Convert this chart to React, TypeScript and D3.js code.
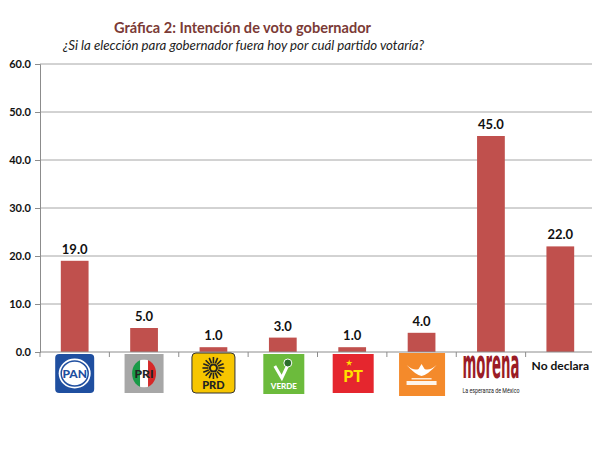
import React, { useEffect, useRef } from "react";
import * as d3 from "d3";

const categories = ["PAN", "PRI", "PRD", "VERDE", "PT", "MC", "MORENA", "No declara"];
const values = [19.0, 5.0, 1.0, 3.0, 1.0, 4.0, 45.0, 22.0];
const yTicks = [0, 10, 20, 30, 40, 50, 60];
const title = "Gráfica 2: Intención de voto gobernador";
const subtitle = "¿Si la elección para gobernador fuera hoy por cuál partido votaría?";

const W = 600, H = 450;
const M = { left: 40, right: 5, top: 64, bottom: 98 };

function drawLogo(g: d3.Selection<SVGGElement, unknown, null, undefined>, key: string, cx: number, top: number) {
  const s = 39;
  const x0 = cx - s / 2;
  const font = "Lato, 'DejaVu Sans', sans-serif";
  if (key === "PAN") {
    g.append("rect").attr("x", x0).attr("y", top).attr("width", s).attr("height", s).attr("rx", 4).attr("fill", "#1f4fa0");
    g.append("ellipse").attr("cx", cx).attr("cy", top + s / 2).attr("rx", 16).attr("ry", 15).attr("fill", "white");
    g.append("ellipse").attr("cx", cx).attr("cy", top + s / 2).attr("rx", 13.5).attr("ry", 12.5).attr("fill", "none").attr("stroke", "#1f4fa0").attr("stroke-width", 1.5);
    g.append("text").attr("x", cx).attr("y", top + s / 2 + 4.5).attr("text-anchor", "middle").attr("font-family", font).attr("font-weight", 900).attr("font-size", 12).attr("fill", "#1f4fa0").text("PAN");
  } else if (key === "PRI") {
    g.append("rect").attr("x", x0).attr("y", top).attr("width", s).attr("height", s).attr("fill", "#a7a7a7");
    const r = 14;
    const cy = top + s / 2;
    const clipId = "priclip";
    g.append("clipPath").attr("id", clipId).append("ellipse").attr("cx", cx).attr("cy", cy).attr("rx", 12).attr("ry", r);
    const cg = g.append("g").attr("clip-path", `url(#${clipId})`);
    cg.append("rect").attr("x", cx - 12).attr("y", cy - r).attr("width", 8).attr("height", 2 * r).attr("fill", "#1a9a48");
    cg.append("rect").attr("x", cx - 4).attr("y", cy - r).attr("width", 8).attr("height", 2 * r).attr("fill", "#ffffff");
    cg.append("rect").attr("x", cx + 4).attr("y", cy - r).attr("width", 8).attr("height", 2 * r).attr("fill", "#d62828");
    g.append("text").attr("x", cx).attr("y", cy + 4).attr("text-anchor", "middle").attr("font-family", font).attr("font-weight", 900).attr("font-size", 12).attr("fill", "#222").text("PRI");
  } else if (key === "PRD") {
    g.append("rect").attr("x", x0 - 2).attr("y", top - 1).attr("width", s + 4).attr("height", s + 1).attr("rx", 4).attr("fill", "#f7c600").attr("stroke", "#333").attr("stroke-width", 1);
    const cy = top + 14;
    for (let i = 0; i < 16; i++) {
      const a = (i / 16) * Math.PI * 2;
      g.append("line").attr("x1", cx + Math.cos(a) * 5).attr("y1", cy + Math.sin(a) * 5)
        .attr("x2", cx + Math.cos(a) * 11).attr("y2", cy + Math.sin(a) * 11)
        .attr("stroke", "#222").attr("stroke-width", 1.6);
    }
    g.append("circle").attr("cx", cx).attr("cy", cy).attr("r", 4.5).attr("fill", "#222");
    g.append("circle").attr("cx", cx).attr("cy", cy).attr("r", 2.5).attr("fill", "#f7c600");
    g.append("text").attr("x", cx).attr("y", top + 35).attr("text-anchor", "middle").attr("font-family", font).attr("font-weight", 900).attr("font-size", 11).attr("fill", "#222").text("PRD");
  } else if (key === "VERDE") {
    g.append("rect").attr("x", x0).attr("y", top).attr("width", s + 2).attr("height", s + 1).attr("fill", "#6cbb3c");
    g.append("path").attr("d", `M${cx - 8},${top + 12} L${cx - 1},${top + 24} L${cx + 6},${top + 9}`).attr("fill", "none").attr("stroke", "white").attr("stroke-width", 3);
    g.append("circle").attr("cx", cx + 5).attr("cy", top + 9).attr("r", 4).attr("fill", "#2b6e2b").attr("stroke", "white").attr("stroke-width", 1);
    g.append("text").attr("x", cx + 1).attr("y", top + 35).attr("text-anchor", "middle").attr("font-family", font).attr("font-weight", 900).attr("font-size", 8).attr("fill", "white").text("VERDE");
  } else if (key === "PT") {
    g.append("rect").attr("x", x0).attr("y", top).attr("width", s + 2).attr("height", s).attr("fill", "#e5262e");
    g.append("text").attr("x", cx + 1).attr("y", top + 28).attr("text-anchor", "middle").attr("font-family", font).attr("font-weight", 900).attr("font-size", 16).attr("fill", "#ffe000").text("PT");
    const star = d3.symbol().type(d3.symbolStar).size(14);
    g.append("path").attr("d", star()!).attr("transform", `translate(${cx - 3},${top + 9})`).attr("fill", "#ffe000");
  } else if (key === "MC") {
    g.append("rect").attr("x", x0 - 3).attr("y", top - 1).attr("width", s + 7).attr("height", s + 4).attr("fill", "#f48a2b");
    const cy = top + 17;
    g.append("path").attr("d", `M${cx - 15},${cy - 6} Q${cx - 6},${cy + 4} ${cx},${cy + 5} Q${cx + 6},${cy + 4} ${cx + 15},${cy - 6} Q${cx + 8},${cy} ${cx + 3},${cy - 2} L${cx},${cy - 7} L${cx - 3},${cy - 2} Q${cx - 8},${cy} ${cx - 15},${cy - 6} Z`).attr("fill", "white");
    g.append("rect").attr("x", cx - 15).attr("y", top + 27).attr("width", 30).attr("height", 4).attr("fill", "white").attr("opacity", 0.9);
    g.append("rect").attr("x", cx - 10).attr("y", top + 24).attr("width", 20).attr("height", 1.5).attr("fill", "white").attr("opacity", 0.8);
  } else if (key === "MORENA") {
    g.append("text").attr("x", 0).attr("y", 0).attr("text-anchor", "middle")
      .attr("transform", `translate(${cx},${top + 24}) scale(0.75,2)`)
      .attr("font-family", "'Liberation Sans Narrow', 'DejaVu Sans Condensed', Roboto, sans-serif")
      .attr("font-weight", 700).attr("font-size", 20).attr("fill", "#9b1c26")
      .attr("textLength", 76).attr("lengthAdjust", "spacingAndGlyphs").text("morena");
    g.append("text").attr("x", cx).attr("y", top + 39).attr("text-anchor", "middle")
      .attr("font-family", "'Liberation Sans Narrow', Roboto, sans-serif")
      .attr("font-size", 7.5).attr("fill", "#222")
      .attr("textLength", 57).attr("lengthAdjust", "spacingAndGlyphs").text("La esperanza de México");
  } else {
    g.append("text").attr("x", cx).attr("y", top + 16).attr("text-anchor", "middle").attr("font-family", font).attr("font-weight", 700).attr("font-size", 12).attr("fill", "#111").text(key);
  }
}

export default function App() {
  const ref = useRef<SVGSVGElement>(null);
  useEffect(() => {
    const svg = d3.select(ref.current);
    svg.selectAll("*").remove();
    const font = "Lato, 'DejaVu Sans', sans-serif";
    const x = d3.scaleBand().domain(categories).range([M.left, W - M.right]).paddingInner(0.6).paddingOuter(0.3);
    const xb = d3.scaleBand().domain(categories).range([M.left, W - M.right]);
    const y = d3.scaleLinear().domain([0, 60]).range([H - M.bottom, M.top]);

    svg.append("rect").attr("width", W).attr("height", H).attr("fill", "white");

    svg.append("text").attr("x", 242.5).attr("y", 33).attr("text-anchor", "middle").attr("font-family", font)
      .attr("font-weight", 700).attr("font-size", 15.5).attr("fill", "#7b3a36")
      .attr("textLength", 257).attr("lengthAdjust", "spacingAndGlyphs").text(title);
    svg.append("text").attr("x", 243.5).attr("y", 50).attr("text-anchor", "middle").attr("font-family", font)
      .attr("font-style", "italic").attr("font-size", 13).attr("fill", "#222")
      .attr("textLength", 361).attr("lengthAdjust", "spacingAndGlyphs").text(subtitle);

    // gridlines
    svg.append("g").selectAll("line").data(yTicks.filter((t) => t > 0)).join("line")
      .attr("x1", M.left).attr("x2", W - M.right).attr("y1", (d) => y(d)).attr("y2", (d) => y(d))
      .attr("stroke", "#a6a6a6").attr("stroke-width", 1);
    // right border
    svg.append("line").attr("x1", W - M.right).attr("x2", W - M.right).attr("y1", y(60)).attr("y2", y(0)).attr("stroke", "#a6a6a6");

    // y axis
    const yAxis = svg.append("g").attr("transform", `translate(${M.left},0)`)
      .call(d3.axisLeft(y).tickValues(yTicks).tickFormat(d3.format(".1f")).tickSize(5).tickPadding(4));
    yAxis.select(".domain").attr("stroke", "#8c8c8c");
    yAxis.selectAll(".tick line").attr("stroke", "#8c8c8c");
    yAxis.selectAll("text").attr("font-family", font).attr("font-weight", 700).attr("font-size", 11).attr("fill", "#111");

    // bars
    svg.append("g").selectAll("rect").data(values).join("rect")
      .attr("x", (_, i) => x(categories[i])!)
      .attr("width", x.bandwidth())
      .attr("y", (d) => y(d))
      .attr("height", (d) => y(0) - y(d))
      .attr("fill", "#c0504d");

    // x axis
    svg.append("line").attr("x1", M.left).attr("x2", W - M.right).attr("y1", y(0)).attr("y2", y(0)).attr("stroke", "#8c8c8c");
    const bounds = categories.map((c) => xb(c)!).concat([W - M.right]);
    svg.append("g").selectAll("line").data(bounds).join("line")
      .attr("x1", (d) => d).attr("x2", (d) => d).attr("y1", y(0)).attr("y2", y(0) + 5).attr("stroke", "#8c8c8c");

    // value labels
    svg.append("g").selectAll("text").data(values).join("text")
      .attr("x", (_, i) => x(categories[i])! + x.bandwidth() / 2)
      .attr("y", (d) => y(d) - 7)
      .attr("text-anchor", "middle").attr("font-family", font).attr("font-weight", 700).attr("font-size", 13).attr("fill", "#111")
      .text((d) => d3.format(".1f")(d));

    // logos
    const lg = svg.append("g");
    categories.forEach((c) => {
      const cx = x(c)! + x.bandwidth() / 2;
      drawLogo(lg as any, c, cx, y(0) + 2);
    });
  }, []);
  return <svg ref={ref} width={W} height={H} style={{ display: "block", margin: "-8px" }} />;
}
